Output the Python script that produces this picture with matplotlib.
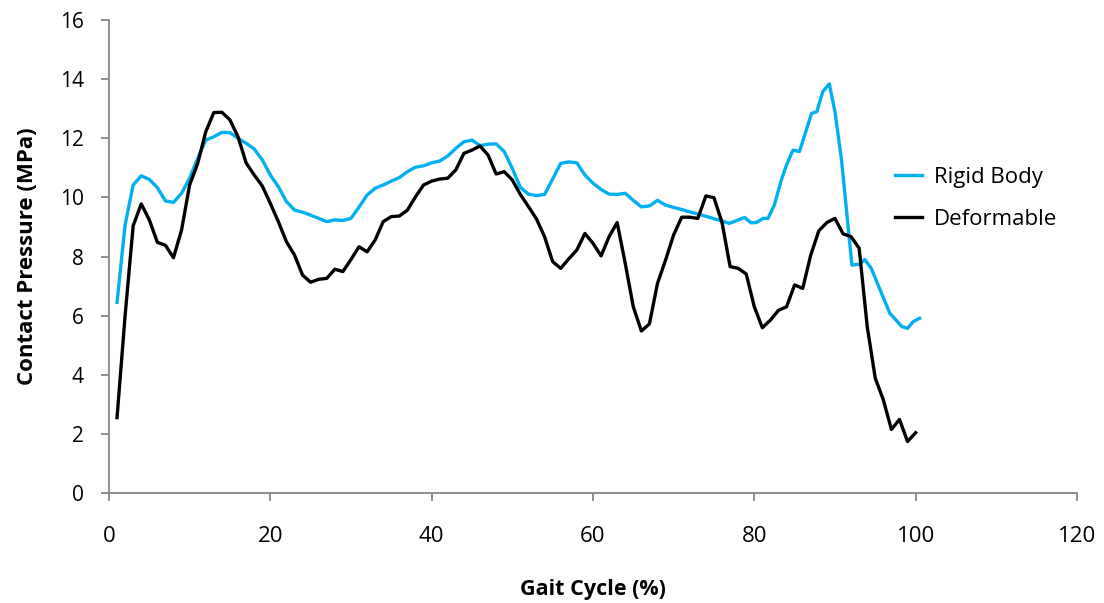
import matplotlib
matplotlib.use("Agg")
import matplotlib.pyplot as plt

# Gait cycle positions (%) and contact pressure (MPa) for each model
rigid_x = [1, 2, 3, 4, 5, 6, 7, 8, 9, 10,
           11, 12, 13, 14, 15, 16, 17, 18, 19, 20,
           21, 22, 23, 24, 25, 26, 27, 28, 29, 30,
           31, 32, 33, 34, 35, 36, 37, 38, 39, 40,
           41, 42, 43, 44, 45, 46, 47, 48, 49, 50,
           51, 52, 53, 54, 55, 56, 57, 58, 59, 60,
           61, 62, 63, 64, 65, 66, 67, 68, 69, 70,
           71, 72, 73, 74, 75, 76, 76.9, 78.8, 79.6, 80.25,
           81.1, 81.7, 82.5, 83.35, 84.0, 84.8, 85.6, 86.25, 87.1, 87.75,
           88.5, 89.3, 90.0, 90.8, 92.1, 93.05, 93.7, 94.5, 95.6, 96.8,
           98.3, 99.0, 99.7, 100.5]
rigid_p = [6.45, 9.07, 10.42, 10.73, 10.61, 10.33, 9.88, 9.83, 10.14, 10.65,
           11.32, 11.94, 12.05, 12.2, 12.19, 12.0, 11.83, 11.64, 11.27, 10.76,
           10.36, 9.86, 9.57, 9.5, 9.4, 9.29, 9.18, 9.24, 9.22, 9.29,
           9.67, 10.08, 10.31, 10.42, 10.55, 10.67, 10.87, 11.02, 11.07, 11.17,
           11.23, 11.4, 11.66, 11.88, 11.94, 11.75, 11.8, 11.81, 11.55, 10.98,
           10.34, 10.11, 10.06, 10.1, 10.62, 11.15, 11.2, 11.17, 10.76, 10.48,
           10.27, 10.11, 10.1, 10.14, 9.9, 9.68, 9.71, 9.9, 9.74, 9.66,
           9.59, 9.51, 9.44, 9.36, 9.28, 9.2, 9.12, 9.32, 9.14, 9.15,
           9.29, 9.29, 9.75, 10.59, 11.1, 11.6, 11.55, 12.11, 12.84, 12.9,
           13.58, 13.84, 12.9, 11.3, 7.71, 7.74, 7.9, 7.6, 6.87, 6.08,
           5.63, 5.57, 5.8, 5.91]

deform_x = list(range(1, 101))
deform_p = [2.55, 6.0, 9.04, 9.78, 9.24, 8.48, 8.38, 7.96, 8.9, 10.42,
            11.15, 12.22, 12.87, 12.88, 12.62, 12.05, 11.17, 10.76, 10.39, 9.8,
            9.18, 8.5, 8.05, 7.37, 7.13, 7.23, 7.26, 7.57, 7.49, 7.9,
            8.33, 8.16, 8.56, 9.18, 9.35, 9.37, 9.57, 10.02, 10.42, 10.55,
            10.62, 10.65, 10.93, 11.49, 11.6, 11.74, 11.43, 10.79, 10.87, 10.59,
            10.1, 9.69, 9.27, 8.67, 7.83, 7.6, 7.92, 8.22, 8.78, 8.45,
            8.02, 8.67, 9.15, 7.77, 6.3, 5.48, 5.72, 7.09, 7.88, 8.73,
            9.33, 9.33, 9.29, 10.05, 9.99, 9.15, 7.66, 7.6, 7.41, 6.3,
            5.59, 5.85, 6.18, 6.3, 7.04, 6.92, 8.05, 8.87, 9.15, 9.29,
            8.77, 8.67, 8.28, 5.63, 3.88, 3.15, 2.15, 2.49, 1.74, 2.04]

x_ticks = [0, 20, 40, 60, 80, 100, 120]
y_ticks = [0, 2, 4, 6, 8, 10, 12, 14, 16]

plt.rcParams["font.family"] = ["Open Sans", "DejaVu Sans"]
axis_grey = "#868686"

fig = plt.figure(figsize=(11.04, 6.03), dpi=100)
ax = fig.add_axes([0.0987, 0.1824, 0.8768, 0.7844])

ax.plot(rigid_x, rigid_p, color="#00B0F0", lw=2.4, label="Rigid Body")
ax.plot(deform_x, deform_p, color="black", lw=2.4, label="Deformable")

ax.set_xlim(0, 120)
ax.set_ylim(0, 16)
ax.set_xticks(x_ticks)
ax.set_yticks(y_ticks)

for side in ("top", "right"):
    ax.spines[side].set_visible(False)
for side in ("left", "bottom"):
    ax.spines[side].set_color(axis_grey)
    ax.spines[side].set_linewidth(1.3)

ax.tick_params(axis="both", colors=axis_grey, length=6, width=1.3,
               labelcolor="black")
ax.tick_params(axis="x", pad=18, labelsize=16)
ax.tick_params(axis="y", pad=12, labelsize=15)

ax.set_xlabel("Gait Cycle (%)", fontsize=15.5, fontweight="bold", labelpad=23)
ax.set_ylabel("Contact Pressure (MPa)", fontsize=16, fontweight="bold", labelpad=16)

fig.legend(loc="center left", bbox_to_anchor=(0.793, 0.671), frameon=False,
           fontsize=16, handlelength=1.2, handletextpad=0.55, labelspacing=0.95)

fig.savefig("out.png", dpi=100)
